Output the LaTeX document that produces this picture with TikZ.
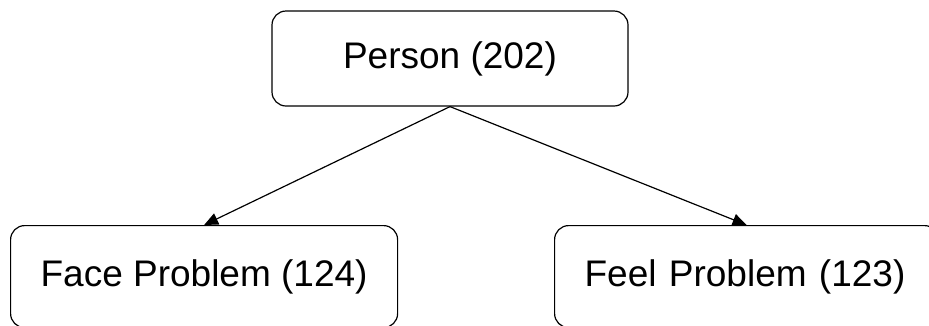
\documentclass[tikz,border=0pt]{standalone}
\usepackage{fontspec}
\setmainfont{Liberation Sans}
\usepackage{tikz}
\usetikzlibrary{positioning,arrows.meta}
\tikzstyle{diagram} = [x = 1pt, y = -1pt]
\tikzstyle{classBox} = [draw, rounded corners = 14pt, line width = 1.2pt, font=\fontsize{37}{44}\selectfont, inner sep = 0pt]
\tikzstyle{childBox} = [classBox, anchor = north west, minimum height = 102pt]
\tikzstyle{linkArrow} = [line width = 1.2pt, -{Triangle[length = 14pt, width = 12pt]}]
\begin{document}
\begin{tikzpicture}[diagram]
    \useasboundingbox (0,0) rectangle (929,325);
    \node [classBox, minimum width = 356pt, minimum height = 95pt] (person) at (450,58.5) {Person (202)};
    \node [childBox, minimum width = 387pt] (face) at (10,225) {Face Problem (124)};
    \node [childBox, text width = 324pt, inner xsep = 30pt, align = left] (feel) at (554,225) {Feel Problem (123)};
    \draw [linkArrow] (person.south) -- (face.north);
    \draw [linkArrow] (person.south) -- (feel.north);
\end{tikzpicture}
\end{document}
